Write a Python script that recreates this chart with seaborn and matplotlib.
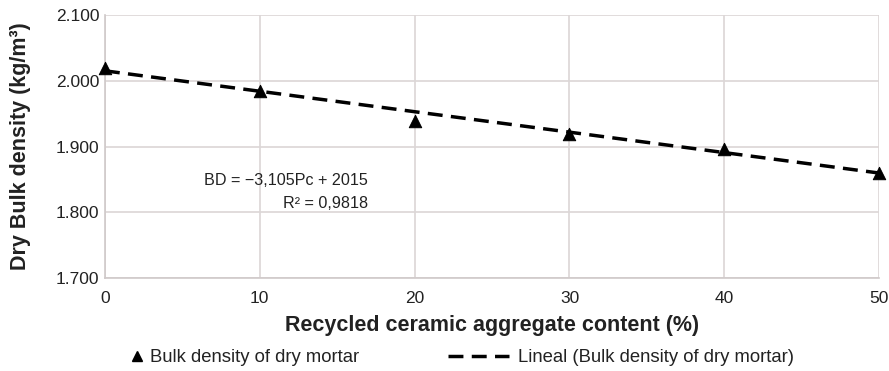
import numpy as np
import seaborn as sns
import matplotlib.pyplot as plt
from matplotlib.lines import Line2D
from matplotlib.ticker import FuncFormatter

# data
content = [0, 10, 20, 30, 40, 50]
density = [2019, 1984, 1939, 1919, 1896, 1860]
slope, intercept = -3.105, 2015
eq_text = "BD = \u22123,105Pc + 2015\nR\u00b2 = 0,9818"

sns.set_style('white')
plt.rcParams['font.family'] = ['Liberation Sans', 'DejaVu Sans']

fig, ax = plt.subplots(figsize=(8.89, 3.71), dpi=100)
fig.subplots_adjust(left=0.118, right=0.989, top=0.96, bottom=0.25)

dash = (0, (4.3, 2.4))
xs = np.array([content[0], content[-1]])
sns.lineplot(x=xs, y=slope * xs + intercept, color='black', linewidth=2.5,
             ax=ax)
ax.lines[0].set_linestyle(dash)
sns.scatterplot(x=content, y=density, marker='^', s=80, color='black',
                edgecolor='black', zorder=3, ax=ax, clip_on=False)

ax.set_xlim(0, 50)
ax.set_ylim(1700, 2100)
ax.set_xticks(range(0, 51, 10))
ax.set_yticks(range(1700, 2101, 100))
ax.yaxis.set_major_formatter(FuncFormatter(lambda v, p: f"{v/1000:.3f}"))
ax.grid(True, color='#dcd6d6', linewidth=1.2)
ax.set_axisbelow(True)
for s in ['top', 'right']:
    ax.spines[s].set_visible(False)
for s in ['left', 'bottom']:
    ax.spines[s].set_color('#cfc9c9')
    ax.spines[s].set_linewidth(1.2)
ax.tick_params(axis='y', length=0, labelsize=12.5, colors='#222222', pad=4)
ax.tick_params(axis='x', length=0, labelsize=12.5, colors='#222222', pad=9)

ax.set_xlabel('Recycled ceramic aggregate content (%)', fontsize=15.5,
              fontweight='bold', color='#222222', labelpad=7)
ax.set_ylabel('Dry Bulk density (kg/m\u00b3)', fontsize=15.5,
              fontweight='bold', color='#222222', labelpad=18)

ax.text(17.0, 1831, eq_text, ha='right', va='center', fontsize=11.6,
        color='#222222', multialignment='right', linespacing=1.6)

# two separate legend pieces, placed like the original
leg_kw = dict(loc='center left', frameon=False, fontsize=13.3,
              borderpad=0, borderaxespad=0, labelcolor='#222222')
fig.legend([Line2D([], [], marker='^', color='black', linestyle='none',
                   markersize=6.5)],
           ['Bulk density of dry mortar'],
           bbox_to_anchor=(131 / 889, 1 - 358 / 371),
           handlelength=0.7, handletextpad=0.35, **leg_kw)
fig.legend([Line2D([], [], color='black', linewidth=2.5, linestyle=dash)],
           ['Lineal (Bulk density of dry mortar)'],
           bbox_to_anchor=(448 / 889, 1 - 358 / 371),
           handlelength=3.3, handletextpad=0.5, **leg_kw)

fig.savefig('out.png', dpi=100)
